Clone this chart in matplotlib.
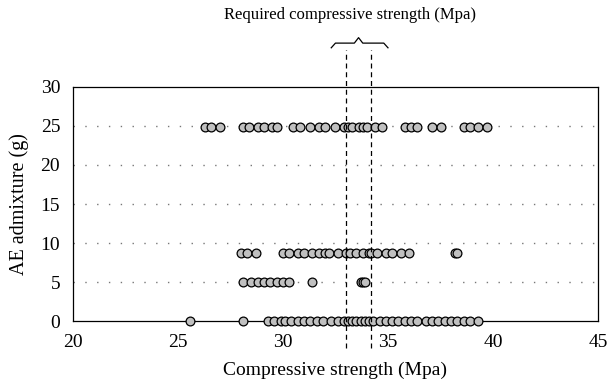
import matplotlib
matplotlib.use("Agg")
import matplotlib.pyplot as plt

plt.rcParams['font.family'] = ['Liberation Serif', 'DejaVu Serif']

# strength values per AE admixture level
strength_25 = [26.3, 26.6, 27.0, 28.1, 28.4, 28.8, 29.1, 29.5, 29.7, 30.5, 30.8,
               31.3, 31.7, 32.0, 32.5, 32.9, 33.1, 33.3, 33.6, 33.8, 34.0, 34.4,
               34.7, 35.8, 36.1, 36.4, 37.1, 37.5, 38.6, 38.9, 39.3, 39.7]
strength_8 = [28.0, 28.3, 28.7, 30.0, 30.3, 30.7, 31.0, 31.4, 31.7, 32.0, 32.2,
              32.6, 33.0, 33.2, 33.5, 33.8, 34.1, 34.2, 34.5, 34.9, 35.2, 35.6,
              36.0, 38.2, 38.3]
strength_5 = [28.1, 28.5, 28.8, 29.1, 29.4, 29.7, 30.0, 30.3, 31.4, 33.7, 33.8, 33.9]
strength_0 = [25.6, 28.1, 29.3, 29.6, 29.9, 30.1, 30.4, 30.7, 31.0, 31.3, 31.6,
              31.9, 32.3, 32.6, 32.9, 33.1, 33.3, 33.5, 33.7, 33.9, 34.1, 34.3,
              34.6, 34.9, 35.2, 35.5, 35.8, 36.1, 36.4, 36.8, 37.1, 37.4, 37.7,
              38.0, 38.3, 38.6, 38.9, 39.3]
levels = [24.8, 8.7, 5, 0]
req_low, req_high = 33.0, 34.2

fig = plt.figure(figsize=(6.11, 3.86), dpi=100)
ax = fig.add_axes([0.119, 0.168, 0.860, 0.607])

for lv, vals in zip(levels, [strength_25, strength_8, strength_5, strength_0]):
    ax.scatter(vals, [lv] * len(vals), s=40, facecolor='#c0c0c0',
               edgecolor='black', linewidth=0.9, zorder=3, clip_on=False)

for y in [5, 10, 15, 20, 25]:
    ax.axhline(y, color='#777777', linestyle=(0, (1, 7.5)), linewidth=1.0, zorder=1)

for xv in [req_low, req_high]:
    ax.plot([xv, xv], [-3.5, 34.7], color='black', linestyle=(0, (4, 3)),
            linewidth=0.9, clip_on=False, zorder=4)

# brace over the required range
bx = [32.3, 32.5, 33.4, 33.6, 33.8, 34.8, 35.0]
by = [35.0, 35.6, 35.6, 36.3, 35.6, 35.6, 35.0]
ax.plot(bx, by, color='black', linewidth=0.9, clip_on=False)
ax.text(33.2, 39.2, 'Required compressive strength (Mpa)', ha='center',
        va='center', fontsize=12)

ax.set_xlim(20, 45)
ax.set_ylim(0, 30)
ax.set_xticks([20, 25, 30, 35, 40, 45])
ax.set_yticks([0, 5, 10, 15, 20, 25, 30])
ax.tick_params(length=0, labelsize=14, pad=9)
ax.set_xlabel('Compressive strength (Mpa)', fontsize=14, labelpad=8)
ax.set_ylabel('AE admixture (g)', fontsize=14.5, labelpad=8)
for sp in ax.spines.values():
    sp.set_linewidth(0.9)

fig.savefig('out.png', dpi=100)
